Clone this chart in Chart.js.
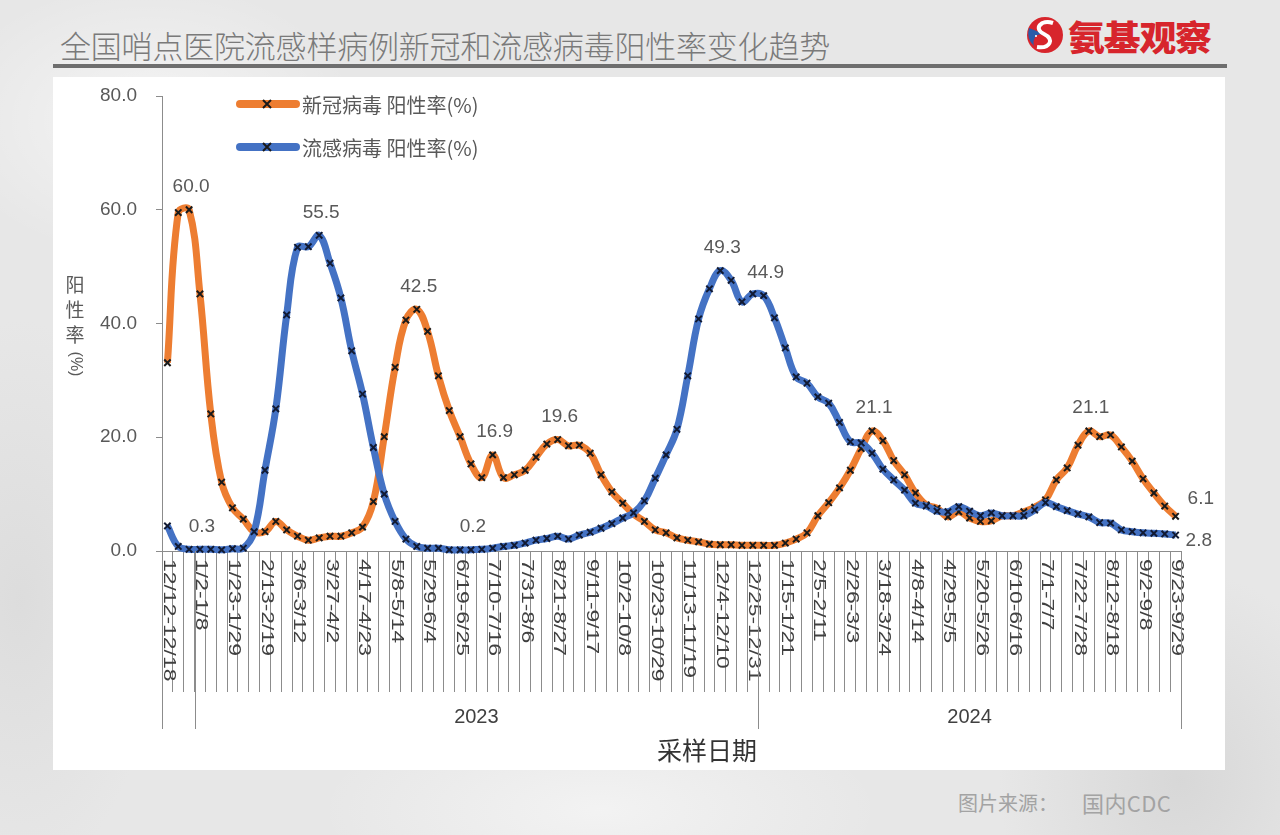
<!DOCTYPE html>
<html>
<head>
<meta charset="utf-8">
<script src="https://cdn.jsdelivr.net/npm/chart.js@4.4.1/dist/chart.umd.min.js"></script>
<style>
  html, body { margin: 0; padding: 0; }
  body {
    width: 1280px; height: 835px; overflow: hidden; position: relative;
    background-color: #e7e7e7;
    background-image:
      radial-gradient(ellipse 300px 200px at 150px 120px, rgba(255,255,255,0.55), rgba(255,255,255,0) 70%),
      radial-gradient(ellipse 260px 300px at 1180px 780px, rgba(200,200,200,0.5), rgba(200,200,200,0) 70%),
      radial-gradient(ellipse 400px 150px at 600px 810px, rgba(250,250,250,0.6), rgba(250,250,250,0) 70%),
      radial-gradient(ellipse 200px 400px at 20px 600px, rgba(210,210,210,0.5), rgba(210,210,210,0) 70%);
    font-family: "Noto Sans CJK SC", "Noto Sans", sans-serif;
  }
  #title {
    position: absolute; left: 60px; top: 28px;
    font-size: 31px; line-height: 34px; font-weight: 300; color: #7a7a7a;
    letter-spacing: -0.2px; white-space: nowrap;
  }
  #bar { position: absolute; left: 53px; top: 64px; width: 1174px; height: 4px; background: #6e6e6e; }
  #logo { position: absolute; left: 1026px; top: 14px; height: 42px; display: flex; align-items: center; }
  #logo span {
    font-size: 35px; font-weight: 900; color: #d7252c; margin-left: 4px; letter-spacing: -1px;
    transform: scaleX(1.05); transform-origin: left center; display: inline-block;
  }
  #panel { position: absolute; left: 53px; top: 77px; width: 1172px; height: 693px; background: #fff; }
  #source1, #source2 { position: absolute; top: 788px; color: #a3a3a3; white-space: nowrap; }
  #source1 { left: 958px; font-size: 20px; }
  #source2 { left: 1082px; font-size: 22px; top: 786px; letter-spacing: 0.4px; }
</style>
</head>
<body>
<div id="title">全国哨点医院流感样病例新冠和流感病毒阳性率变化趋势</div>
<div id="logo">
  <svg width="38" height="38" viewBox="0 0 38 38">
    <circle cx="19" cy="19" r="18" fill="#d7252c"/>
    <path d="M19 19 C10 16, 6 24, 8 30 A18 18 0 0 1 3 12 C8 14, 14 16, 19 19 Z" fill="#2b5ba8"/>
    <path d="M27 7 C15 3, 7 13, 18 18 C29 23, 24 33, 11 31" stroke="#fff" stroke-width="4" fill="none"/>
    <path d="M9 20 l2 0 M10 19 l0 2" stroke="#fff" stroke-width="1.2"/>
  </svg>
  <span>氨基观察</span>
</div>
<div id="bar"></div>
<div id="panel"><canvas id="myChart" width="1172" height="693"></canvas></div>
<div id="source1">图片来源：</div>
<div id="source2">国内CDC</div>

<script>
'use strict'

// weekly sampling periods, 2022-12-12 .. 2024-09-29
const weekLabels = [
  '12/12-12/18', '12/19-12/25', '12/26-1/1',
  '1/2-1/8', '1/9-1/15', '1/16-1/22', '1/23-1/29', '1/30-2/5', '2/6-2/12', '2/13-2/19', '2/20-2/26',
  '2/27-3/5', '3/6-3/12', '3/13-3/19', '3/20-3/26', '3/27-4/2', '4/3-4/9', '4/10-4/16', '4/17-4/23',
  '4/24-4/30', '5/1-5/7', '5/8-5/14', '5/15-5/21', '5/22-5/28', '5/29-6/4', '6/5-6/11', '6/12-6/18',
  '6/19-6/25', '6/26-7/2', '7/3-7/9', '7/10-7/16', '7/17-7/23', '7/24-7/30', '7/31-8/6', '8/7-8/13',
  '8/14-8/20', '8/21-8/27', '8/28-9/3', '9/4-9/10', '9/11-9/17', '9/18-9/24', '9/25-10/1', '10/2-10/8',
  '10/9-10/15', '10/16-10/22', '10/23-10/29', '10/30-11/5', '11/6-11/12', '11/13-11/19', '11/20-11/26',
  '11/27-12/3', '12/4-12/10', '12/11-12/17', '12/18-12/24', '12/25-12/31',
  '1/1-1/7', '1/8-1/14', '1/15-1/21', '1/22-1/28', '1/29-2/4', '2/5-2/11', '2/12-2/18', '2/19-2/25',
  '2/26-3/3', '3/4-3/10', '3/11-3/17', '3/18-3/24', '3/25-3/31', '4/1-4/7', '4/8-4/14', '4/15-4/21',
  '4/22-4/28', '4/29-5/5', '5/6-5/12', '5/13-5/19', '5/20-5/26', '5/27-6/2', '6/3-6/9', '6/10-6/16',
  '6/17-6/23', '6/24-6/30', '7/1-7/7', '7/8-7/14', '7/15-7/21', '7/22-7/28', '7/29-8/4', '8/5-8/11',
  '8/12-8/18', '8/19-8/25', '8/26-9/1', '9/2-9/8', '9/9-9/15', '9/16-9/22', '9/23-9/29'
];

// 新冠病毒 阳性率(%)
const covidRate = [
  33.1, 59.5, 60.0, 45.2, 24.1, 12.1, 7.6, 5.6, 3.4, 3.4,
  5.2, 3.7, 2.6, 1.9, 2.3, 2.6, 2.6, 3.2, 4.2, 8.7,
  20.1, 32.3, 40.6, 42.5, 38.6, 30.8, 24.7, 20.1, 15.3, 12.9,
  16.9, 12.9, 13.4, 14.2, 16.5, 18.8, 19.6, 18.5, 18.6, 17.2,
  13.4, 10.4, 8.4, 6.5, 5.2, 3.7, 3.2, 2.3, 1.9, 1.6,
  1.2, 1.1, 1.1, 1.0, 1.0, 1.0, 1.0, 1.4, 2.1, 3.2,
  6.2, 8.5, 11.1, 14.2, 18.0, 21.1, 19.4, 15.9, 13.4, 10.2,
  8.1, 7.5, 6.0, 6.9, 5.8, 5.2, 5.3, 6.2, 6.2, 6.9,
  7.7, 9.0, 12.5, 14.6, 18.6, 21.1, 20.1, 20.4, 18.3, 15.8,
  12.7, 10.2, 7.9, 6.1
];

// 流感病毒 阳性率(%)
const fluRate = [
  4.4, 0.8, 0.3, 0.3, 0.3, 0.2, 0.4, 0.5, 3.4, 14.2,
  25.0, 41.5, 53.4, 53.5, 55.5, 50.6, 44.5, 35.2, 27.6, 18.2,
  10.0, 5.2, 2.1, 0.8, 0.5, 0.5, 0.2, 0.2, 0.2, 0.3,
  0.5, 0.8, 1.0, 1.4, 1.9, 2.2, 2.6, 2.1, 2.8, 3.3,
  4.0, 4.8, 5.8, 6.7, 8.8, 12.8, 16.9, 21.4, 30.8, 40.8,
  46.1, 49.3, 47.6, 43.8, 45.2, 44.9, 41.0, 35.7, 30.6, 29.5,
  27.1, 26.0, 22.6, 19.2, 19.0, 17.2, 14.4, 12.5, 10.7, 8.4,
  7.9, 7.0, 6.9, 7.8, 7.0, 6.2, 6.7, 6.2, 6.2, 6.2,
  7.2, 8.5, 7.8, 7.1, 6.5, 6.0, 5.0, 4.9, 3.7, 3.4,
  3.2, 3.1, 3.0, 2.8
];

const seriesNames = ['新冠病毒 阳性率(%)', '流感病毒 阳性率(%)'];
const seriesColors = ['#ED7D31', '#4472C4'];
const yTicks = [0, 20, 40, 60, 80];

// year groups on the axis: first week index of each year
const yearNames = ['2023', '2024'];
const yearStart = [3, 55];

// points that carry a value label: [series, index, side]
const labelPoints = [
  [0, 2, 'top'], [1, 3, 'top'], [1, 14, 'top'], [0, 23, 'top'], [0, 30, 'top'],
  [1, 28, 'top'], [0, 36, 'top'], [1, 51, 'top'], [1, 55, 'top'], [0, 65, 'top'],
  [0, 85, 'top'], [0, 93, 'upright'], [1, 93, 'right']
];

const numFont = '"Liberation Sans", Arial, sans-serif';
const cjkFont = '"Noto Sans CJK SC", sans-serif';
const textColor = '#595959';
const axisColor = '#8c8c8c';

const decorPlugin = {
  id: 'decor',
  afterDatasetsDraw(chart) {
    const ctx = chart.ctx;
    const xs = chart.scales.x;
    const ys = chart.scales.y;
    const area = chart.chartArea;
    const half = (xs.getPixelForValue(1) - xs.getPixelForValue(0)) / 2;
    const axisY = area.bottom;

    ctx.save();

    // rotated week labels, every 3rd week
    ctx.fillStyle = '#404040';
    ctx.font = '17px ' + numFont;
    ctx.textAlign = 'left';
    ctx.textBaseline = 'middle';
    for (let i = 0; i < weekLabels.length; i += 3) {
      const x = xs.getPixelForValue(i);
      ctx.save();
      ctx.translate(x + 1, axisY + 8);
      ctx.rotate(Math.PI / 2);
      ctx.scale(1.35, 0.95);
      ctx.fillText(weekLabels[i], 0, 0);
      ctx.restore();
    }

    // long separators at year boundaries
    ctx.strokeStyle = axisColor;
    ctx.lineWidth = 1;
    const bounds = [0].concat(yearStart, [weekLabels.length]);
    for (let b of bounds) {
      const x = Math.round(xs.getPixelForValue(b) - half) + 0.5;
      ctx.beginPath();
      ctx.moveTo(x, axisY);
      ctx.lineTo(x, axisY + 178);
      ctx.stroke();
    }

    // year names
    ctx.fillStyle = '#404040';
    ctx.font = '20px ' + numFont;
    ctx.textAlign = 'center';
    ctx.textBaseline = 'middle';
    for (let k = 0; k < yearNames.length; k++) {
      const from = xs.getPixelForValue(yearStart[k]) - half;
      const to = k + 1 < yearStart.length ? xs.getPixelForValue(yearStart[k + 1]) - half : xs.getPixelForValue(weekLabels.length - 1) + half;
      ctx.fillText(yearNames[k], (from + to) / 2, axisY + 166);
    }

    // x axis title
    ctx.fillStyle = '#333333';
    ctx.font = '25px ' + cjkFont;
    ctx.fillText('采样日期', 654, axisY + 199);

    // y axis title, stacked characters
    ctx.fillStyle = textColor;
    ctx.font = '19px ' + cjkFont;
    const yChars = ['阳', '性', '率'];
    yChars.forEach((c, k) => ctx.fillText(c, 22, 208 + k * 25));
    ctx.save();
    ctx.translate(22, 287);
    ctx.rotate(Math.PI / 2);
    ctx.font = '16px ' + numFont;
    ctx.fillText('(%)', 0, 0);
    ctx.restore();

    // legend
    for (let s = 0; s < 2; s++) {
      const ly = 27 + s * 43;
      ctx.strokeStyle = seriesColors[s];
      ctx.lineWidth = 8;
      ctx.lineCap = 'round';
      ctx.beginPath();
      ctx.moveTo(187, ly);
      ctx.lineTo(243, ly);
      ctx.stroke();
      ctx.strokeStyle = '#1a1a1a';
      ctx.lineWidth = 2;
      ctx.lineCap = 'butt';
      ctx.beginPath();
      ctx.moveTo(210, ly - 4); ctx.lineTo(218, ly + 4);
      ctx.moveTo(218, ly - 4); ctx.lineTo(210, ly + 4);
      ctx.stroke();
      ctx.fillStyle = textColor;
      ctx.font = '20px ' + cjkFont;
      ctx.textAlign = 'left';
      ctx.fillText(seriesNames[s], 249, ly + 1);
    }

    // value labels
    ctx.fillStyle = textColor;
    ctx.font = '19px ' + numFont;
    ctx.textBaseline = 'middle';
    for (let [s, i, side] of labelPoints) {
      const v = (s === 0 ? covidRate : fluRate)[i];
      const x = xs.getPixelForValue(i);
      const y = ys.getPixelForValue(v);
      const txt = v.toFixed(1);
      if (side === 'top') {
        ctx.textAlign = 'center';
        ctx.fillText(txt, x + 2, y - 23);
      } else if (side === 'upright') {
        ctx.textAlign = 'left';
        ctx.fillText(txt, x + 12, y - 18);
      } else {
        ctx.textAlign = 'left';
        ctx.fillText(txt, x + 10, y + 6);
      }
    }

    ctx.restore();
  }
};

function makeChart() {
  const ctx = document.getElementById('myChart').getContext('2d');

  const myChart = new Chart(ctx, {
    type: 'line',
    data: {
      labels: weekLabels,
      datasets: [
        {
          label: seriesNames[0],
          data: covidRate,
          borderColor: seriesColors[0],
          borderWidth: 7,
          tension: 0.4,
          pointStyle: 'crossRot',
          pointRadius: 4.5,
          pointBorderWidth: 2,
          pointBorderColor: '#1a1a1a',
          clip: false,
          order: 2
        },
        {
          label: seriesNames[1],
          data: fluRate,
          borderColor: seriesColors[1],
          borderWidth: 7,
          tension: 0.4,
          pointStyle: 'crossRot',
          pointRadius: 4.5,
          pointBorderWidth: 2,
          pointBorderColor: '#111a33',
          clip: false,
          order: 1
        }
      ]
    },
    options: {
      responsive: false,
      animation: false,
      events: [],
      layout: { padding: { top: 19, right: 44, left: 0, bottom: 0 } },
      plugins: {
        legend: { display: false },
        tooltip: { enabled: false }
      },
      scales: {
        x: {
          type: 'category',
          offset: true,
          border: { color: axisColor, width: 1 },
          grid: {
            offset: true,
            drawOnChartArea: false,
            drawTicks: true,
            tickLength: 141,
            color: axisColor
          },
          ticks: { display: false, autoSkip: false },
          afterFit(scale) { scale.height = 219; }
        },
        y: {
          min: yTicks[0],
          max: yTicks[yTicks.length - 1],
          border: { color: axisColor, width: 1 },
          grid: {
            drawOnChartArea: false,
            drawTicks: true,
            tickLength: 6,
            color: axisColor
          },
          ticks: {
            stepSize: yTicks[1] - yTicks[0],
            padding: 19,
            color: textColor,
            font: { size: 19, family: numFont },
            callback: (v) => v.toFixed(1)
          },
          afterFit(scale) {
            scale.width = 109;
            scale.paddingTop = 10;
            scale.paddingBottom = 10;
          }
        }
      }
    },
    plugins: [decorPlugin]
  });
}

makeChart();
</script>
</body>
</html>
